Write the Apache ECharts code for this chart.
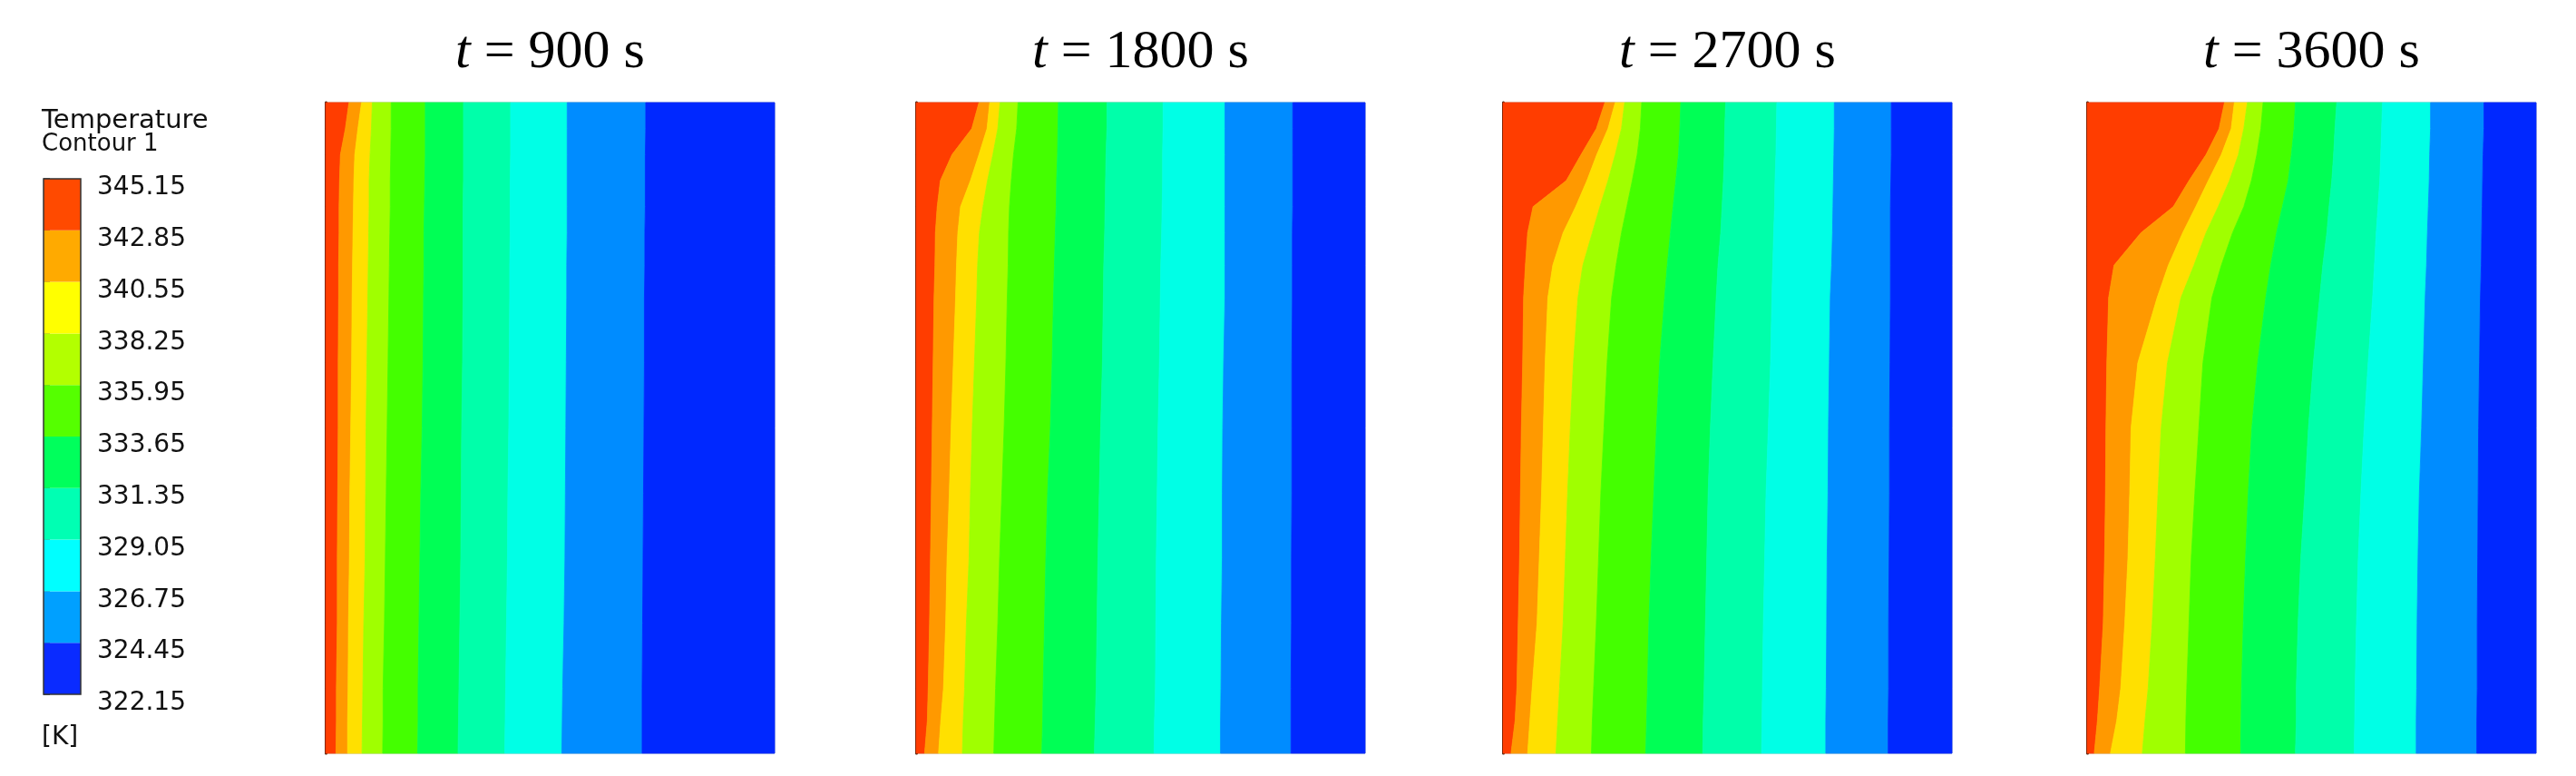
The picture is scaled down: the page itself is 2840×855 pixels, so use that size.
<!DOCTYPE html>
<html>
<head>
<meta charset="utf-8">
<script src="https://cdn.jsdelivr.net/npm/echarts@6/dist/echarts.min.js"></script>
<style>html,body{margin:0;padding:0;background:#fff}#c{width:2840px;height:855px}</style>
</head>
<body>
<div id="c"></div>
<script>
// ---- legend data ----
const tickLabels = ['322.15','324.45','326.75','329.05','331.35','333.65','335.95','338.25','340.55','342.85','345.15'];
const legendColors = ['#0a2bff','#00a0ff','#00ffff','#00ffb3','#00ff5c','#55ff00','#b3ff00','#ffff00','#ffaa00','#ff4a00']; // cold -> hot
const fieldColors = ['#ff3d00','#ff9900','#ffe000','#a0ff00','#44ff00','#00ff55','#00ffaa','#00ffe6','#008cff','#0028ff']; // hot -> cold
const panelTitles = ['900','1800','2700','3600'];

// height of sample rows (% of domain height, top -> bottom)
const rowsY = [100, 96, 92, 88, 84, 80, 75, 70, 60, 50, 40, 30, 20, 10, 5, 0];

// contour boundaries (x, % of domain width) at each row; 9 boundaries from hot side to cold side
const p900 = [
  [5.2,4.4,3.3,3.1,3.0,3.0,2.9,2.9,2.8,2.8,2.7,2.6,2.6,2.4,2.4,2.3],
  [8.0,7.2,6.5,6.3,6.2,6.1,6.0,5.9,5.8,5.6,5.4,5.3,5.1,5.0,4.9,4.9],
  [10.4,10.2,9.9,9.7,9.7,9.6,9.5,9.4,9.2,9.0,8.9,8.8,8.5,8.3,8.2,8.1],
  [14.6,14.6,14.5,14.4,14.4,14.3,14.2,14.1,13.9,13.7,13.5,13.3,13.1,12.8,12.8,12.7],
  [22.2,22.2,22.2,22.1,22.0,21.9,21.9,21.8,21.7,21.5,21.2,21.0,20.8,20.6,20.6,20.5],
  [30.7,30.7,30.7,30.7,30.6,30.6,30.6,30.6,30.5,30.3,30.2,30.1,29.9,29.7,29.6,29.5],
  [41.2,41.2,41.2,41.1,41.1,41.1,41.0,41.0,40.9,40.8,40.6,40.5,40.3,40.1,40.0,39.9],
  [53.8,53.8,53.8,53.8,53.8,53.8,53.7,53.7,53.6,53.5,53.4,53.3,53.1,52.8,52.7,52.6],
  [71.3,71.3,71.2,71.2,71.2,71.1,71.1,71.0,71.0,70.9,70.8,70.7,70.6,70.5,70.5,70.5]
];
const p1800 = [
  [14.0,12.4,8.0,5.4,4.7,4.3,4.2,4.0,3.8,3.6,3.4,3.2,3.0,2.7,2.5,1.9],
  [16.4,15.8,14.0,12.1,9.9,9.3,9.0,8.8,8.3,7.8,7.4,6.9,6.6,6.1,5.5,5.0],
  [18.7,18.2,17.1,15.9,14.9,14.1,13.7,13.5,13.0,12.5,12.1,11.8,11.2,10.8,10.5,10.3],
  [22.7,22.4,21.7,21.2,20.8,20.6,20.5,20.3,20.0,19.6,19.1,18.6,18.2,17.7,17.5,17.3],
  [31.7,31.6,31.5,31.3,31.2,31.0,30.8,30.6,30.3,29.9,29.3,28.9,28.6,28.3,28.2,28.0],
  [42.5,42.5,42.3,42.2,42.1,42.0,41.8,41.7,41.5,41.1,40.8,40.5,40.3,40.1,39.9,39.7],
  [55.0,55.0,54.9,54.9,54.8,54.7,54.5,54.4,54.2,53.9,53.7,53.5,53.4,53.3,53.1,53.0],
  [68.8,68.8,68.8,68.8,68.8,68.8,68.8,68.8,68.5,68.3,68.2,68.2,68.0,67.9,67.8,67.8],
  [83.9,83.9,83.9,83.9,83.9,83.8,83.8,83.8,83.7,83.7,83.7,83.6,83.6,83.5,83.5,83.5]
];
const p2700 = [
  [22.7,20.8,17.4,14.1,6.7,5.5,5.0,4.6,4.4,4.1,3.9,3.7,3.4,3.1,2.7,1.8],
  [25.0,23.4,20.9,18.7,16.2,13.4,11.1,10.0,9.4,9.0,8.6,8.1,7.6,6.5,6.0,5.5],
  [27.1,26.4,25.0,23.4,21.6,19.9,17.8,16.7,15.7,15.0,14.4,13.9,13.4,12.6,12.2,11.8],
  [30.9,30.6,29.9,28.8,27.6,26.4,25.2,24.2,23.2,22.5,21.8,21.3,20.8,20.2,19.9,19.7],
  [39.6,39.4,39.1,38.5,37.9,37.3,36.6,36.0,34.9,34.2,33.6,33.0,32.5,32.2,32.0,31.8],
  [49.6,49.4,49.3,49.1,48.8,48.5,47.9,47.5,46.8,46.2,45.7,45.4,45.1,44.8,44.6,44.5],
  [61.0,60.9,60.8,60.6,60.5,60.3,60.1,59.9,59.6,59.1,58.6,58.3,58.0,57.8,57.7,57.6],
  [73.8,73.8,73.7,73.6,73.5,73.4,73.2,72.9,72.7,72.5,72.4,72.2,72.1,72.0,71.9,71.9],
  [86.5,86.5,86.5,86.4,86.3,86.3,86.3,86.3,86.2,86.1,86.1,86.0,85.9,85.9,85.8,85.8]
];
const p3600 = [
  [30.6,29.4,26.5,22.7,19.2,12.0,6.0,4.8,4.4,4.2,4.1,3.9,3.6,2.8,2.3,1.6],
  [32.8,32.1,29.9,27.0,24.2,21.3,18.1,15.6,11.3,9.8,9.5,9.1,8.4,7.5,6.6,5.2],
  [35.7,34.9,33.7,31.7,29.2,26.5,23.8,20.9,17.9,16.5,15.8,15.2,14.5,13.6,12.9,12.3],
  [39.2,38.7,37.8,36.6,34.9,32.4,29.9,27.8,25.8,24.9,24.0,23.2,22.7,22.2,22.0,21.9],
  [46.4,46.1,45.5,44.8,43.5,42.2,40.9,39.8,38.0,36.7,35.9,35.3,34.8,34.4,34.3,34.2],
  [55.6,55.2,54.9,54.5,53.9,53.4,52.5,51.8,50.4,49.3,48.5,47.6,47.0,46.6,46.6,46.4],
  [65.8,65.6,65.4,65.2,64.8,64.4,64.0,63.6,62.6,61.7,61.0,60.4,60.0,59.7,59.6,59.5],
  [76.5,76.5,76.3,76.2,76.0,75.8,75.6,75.3,74.9,74.5,74.0,73.7,73.5,73.4,73.3,73.3],
  [88.4,88.4,88.2,88.1,88.0,87.9,87.8,87.6,87.4,87.2,87.1,87.0,86.9,86.9,86.8,86.8]
];
const panels = [p900, p1800, p2700, p3600];

// ---- layout ----
const panelLeft = [359, 1010, 1657, 2301];
const panelW = 495, panelTop = 113, panelH = 717;

const chart = echarts.init(document.getElementById('c'), null, {renderer: 'canvas'});

const grids = [], xAxes = [], yAxes = [], series = [], titles = [];
panels.forEach((bounds, k) => {
  grids.push({left: panelLeft[k], top: panelTop, width: panelW, height: panelH,
    show: true, borderColor: '#b0b0b0', borderWidth: 1, backgroundColor: 'transparent'});
  xAxes.push({type: 'value', gridIndex: k, min: 0, max: 100, show: false});
  yAxes.push({type: 'value', gridIndex: k, min: 0, max: 100, show: true,
    axisLine: {show: true, onZero: false, lineStyle: {color: '#3a1a08', width: 3}},
    axisTick: {show: false}, axisLabel: {show: false}, splitLine: {show: false}});
  series.push({
    type: 'custom', xAxisIndex: k, yAxisIndex: k, silent: true,
    data: [0,1,2,3,4,5,6,7,8,9].map(b => [b]),
    renderItem: function (params, api) {
      const b = api.value(0);
      const pts = [];
      for (let r = 0; r < rowsY.length; r++) {
        const x = b === 0 ? 0 : bounds[b - 1][r];
        pts.push(api.coord([x, rowsY[r]]));
      }
      for (let r = rowsY.length - 1; r >= 0; r--) {
        const x = b === 9 ? 100 : bounds[b][r];
        pts.push(api.coord([x, rowsY[r]]));
      }
      return {type: 'polygon', shape: {points: pts},
        style: {fill: fieldColors[b], stroke: fieldColors[b], lineWidth: 0.8}};
    }
  });
  titles.push({
    text: '{i|t} = ' + panelTitles[k] + ' s',
    left: panelLeft[k] + panelW / 2, top: 28, textAlign: 'center',
    textStyle: {fontFamily: 'Liberation Serif', fontSize: 60, fontWeight: 'normal', color: '#000',
      rich: {i: {fontFamily: 'Liberation Serif', fontStyle: 'italic', fontSize: 60, color: '#000'}}}
  });
});

// legend colour bar
const L = 4;
grids.push({left: 48, top: 197, width: 41, height: 568, show: false});
xAxes.push({type: 'value', gridIndex: L, min: 0, max: 1, show: false});
yAxes.push({type: 'value', gridIndex: L, min: 0, max: 10, interval: 1, position: 'right',
  axisLine: {show: false},
  axisTick: {show: true, length: 7, lineStyle: {color: '#444', width: 1.5}},
  splitLine: {show: false},
  axisLabel: {show: true, margin: 18, color: '#111', fontSize: 28, fontFamily: 'DejaVu Sans',
    lineHeight: 20, verticalAlign: 'middle',
    formatter: v => '\n' + tickLabels[Math.round(v)]}});
series.push({
  type: 'custom', xAxisIndex: L, yAxisIndex: L, silent: true,
  data: [0,1,2,3,4,5,6,7,8,9].map(i => [i]),
  renderItem: function (params, api) {
    const i = api.value(0);
    const p0 = api.coord([0, i]), p1 = api.coord([1, i + 1]);
    return {type: 'rect', shape: {x: p0[0], y: p1[1], width: p1[0] - p0[0], height: p0[1] - p1[1]},
      style: {fill: legendColors[i]}};
  }
});
series.push({
  type: 'custom', xAxisIndex: L, yAxisIndex: L, silent: true, z: 5,
  data: [[0]],
  renderItem: function (params, api) {
    const p0 = api.coord([0, 0]), p1 = api.coord([1, 10]);
    return {type: 'rect', shape: {x: p0[0], y: p1[1], width: p1[0] - p0[0], height: p0[1] - p1[1]},
      style: {fill: 'none', stroke: '#333', lineWidth: 1.5}};
  }
});

titles.push({text: 'Temperature', left: 46, top: 119,
  textStyle: {fontFamily: 'DejaVu Sans', fontSize: 29, fontWeight: 'normal', color: '#111'}});
titles.push({text: 'Contour 1', left: 46, top: 146,
  textStyle: {fontFamily: 'DejaVu Sans', fontSize: 26, fontWeight: 'normal', color: '#111'}});
titles.push({text: '[K]', left: 46, top: 799,
  textStyle: {fontFamily: 'DejaVu Sans', fontSize: 28, fontWeight: 'normal', color: '#111'}});
titles.forEach(t => { t.padding = 0; });

chart.setOption({
  animation: false,
  backgroundColor: '#ffffff',
  title: titles,
  grid: grids,
  xAxis: xAxes,
  yAxis: yAxes,
  series: series
});
</script>
</body>
</html>
